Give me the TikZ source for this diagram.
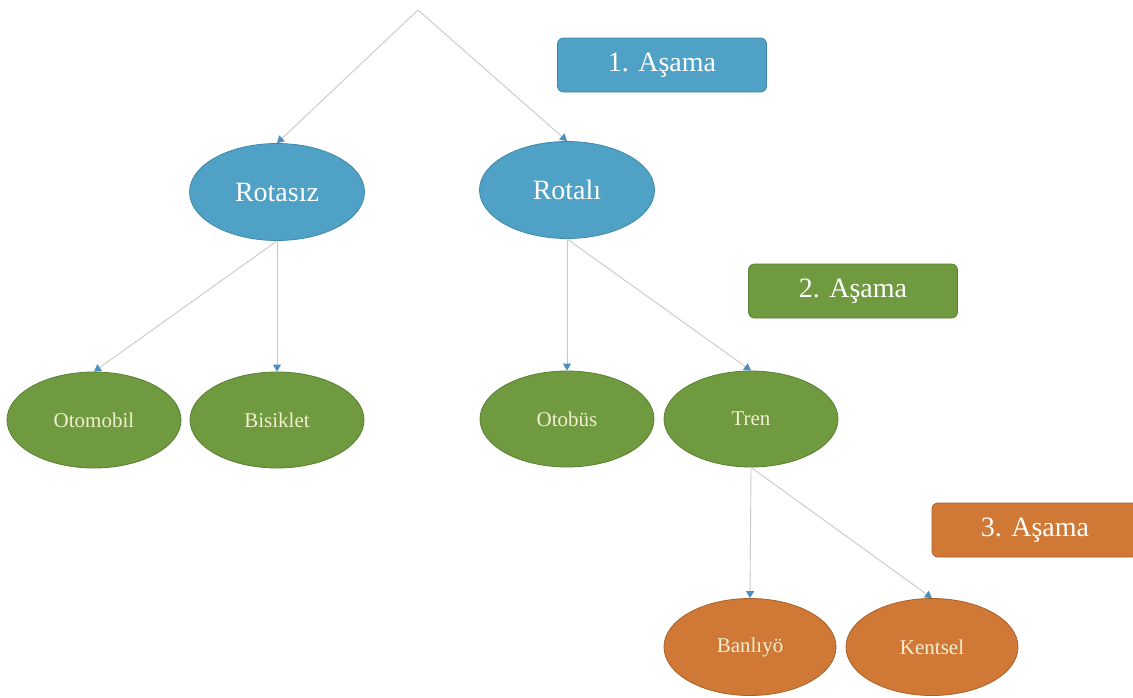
\documentclass[tikz,border=0pt]{standalone}
\usepackage{fontspec}
\setmainfont{Liberation Serif}
\usetikzlibrary{shapes.geometric,arrows.meta}
\definecolor{sblue}{HTML}{4FA2C6}
\definecolor{sbluedark}{HTML}{3F87AA}
\definecolor{sgreen}{HTML}{6F9A3F}
\definecolor{sgreendark}{HTML}{5A7F32}
\definecolor{sorange}{HTML}{D07836}
\definecolor{sorangedark}{HTML}{A85F2A}
\definecolor{linegray}{HTML}{C9C9C9}
\definecolor{tipblue}{HTML}{4A90C2}
\definecolor{cream}{HTML}{F2EFD0}
\tikzset{
  bigell/.style={ellipse, draw=sbluedark, line width=0.8pt, fill=sblue, minimum width=175pt, minimum height=97pt, inner sep=0pt, text=white, font=\fontsize{28}{30}\selectfont},
  greenell/.style={ellipse, draw=sgreendark, line width=0.8pt, fill=sgreen, minimum width=174pt, minimum height=96pt, inner sep=0pt, text=cream, font=\fontsize{21}{23}\selectfont},
  orangeell/.style={ellipse, draw=sorangedark, line width=0.8pt, fill=sorange, minimum width=172pt, minimum height=97pt, inner sep=0pt, text=cream, font=\fontsize{21}{23}\selectfont},
  stagebox/.style={rectangle, rounded corners=6pt, line width=0.8pt, minimum width=209pt, minimum height=54pt, inner sep=0pt, text=white, font=\fontsize{28}{30}\selectfont},
  conn/.style={draw=linegray, line width=0.9pt, -{Triangle[width=8pt,length=7pt,fill=tipblue,color=tipblue]}}
}
\begin{document}
\begin{tikzpicture}[x=1pt,y=-1pt]
\useasboundingbox[fill=white] (0,0) rectangle (1133,697);
\coordinate (root) at (418,10);
\node[bigell] (rotasiz) at (277,192) {Rotasız};
\node[bigell] (rotali) at (567,190) {Rotalı};
\node[greenell] (otomobil) at (94,420) {Otomobil};
\node[greenell] (bisiklet) at (277,420) {Bisiklet};
\node[greenell] (otobus) at (567,419) {Otobüs};
\node[greenell] (tren) at (751,419) {Tren};
\node[orangeell] (banliyo) at (750,647) {Banlıyö};
\node[orangeell] (kentsel) at (932,647) {Kentsel};
\node[stagebox, fill=sblue, draw=sbluedark] (a1) at (662,65) {1. Aşama};
\node[stagebox, fill=sgreen, draw=sgreendark] (a2) at (853,291) {2. Aşama};
\node[stagebox, fill=sorange, draw=sorangedark, minimum width=206pt] (a3) at (1035,530) {3. Aşama};
\draw[conn] (root) -- (rotasiz.north);
\draw[conn] (root) -- (rotali.north);
\draw[conn] (rotasiz.south) -- (otomobil.north);
\draw[conn] (rotasiz.south) -- (bisiklet.north);
\draw[conn] (rotali.south) -- (otobus.north);
\draw[conn] (rotali.south) -- (tren.north);
\draw[conn] (tren.south) -- (banliyo.north);
\draw[conn] (tren.south) -- (kentsel.north);
\end{tikzpicture}
\end{document}
